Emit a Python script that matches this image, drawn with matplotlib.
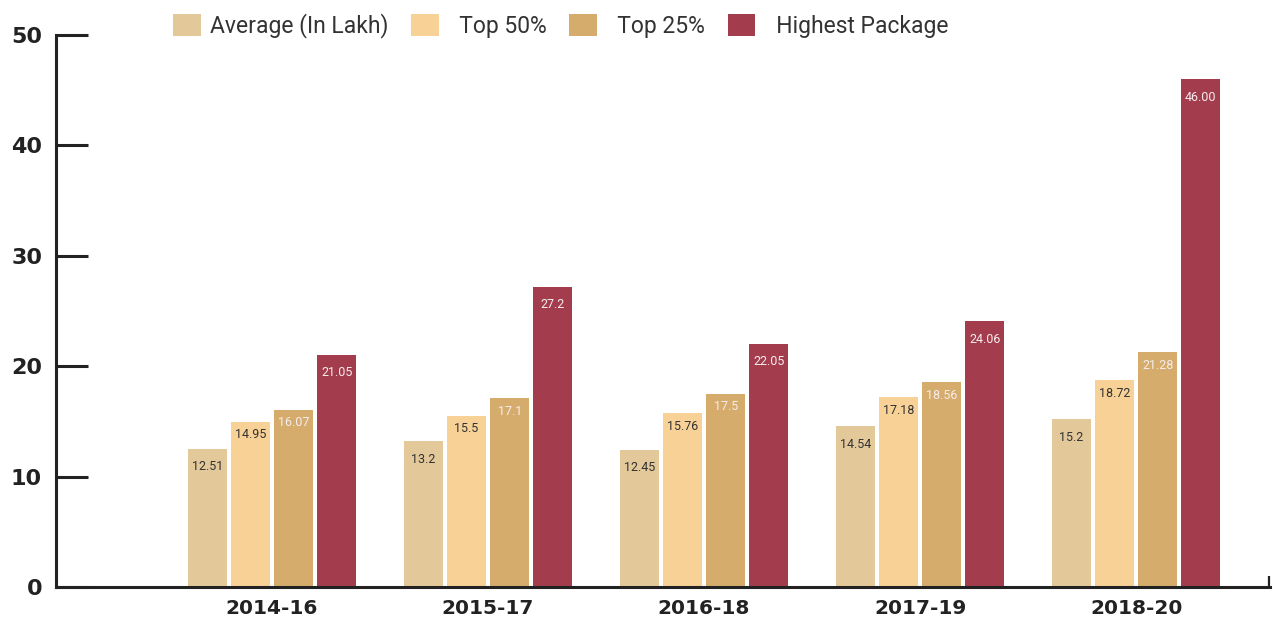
import matplotlib.pyplot as plt
import numpy as np

years = ["2014-16", "2015-17", "2016-18", "2017-19", "2018-20"]
series = ["Average (In Lakh)", "Top 50%", "Top 25%", "Highest Package"]
average = [12.51, 13.2, 12.45, 14.54, 15.2]
top50 = [14.95, 15.5, 15.76, 17.18, 18.72]
top25 = [16.07, 17.1, 17.5, 18.56, 21.28]
highest = [21.05, 27.2, 22.05, 24.06, 46.00]
average_txt = ["12.51", "13.2", "12.45", "14.54", "15.2"]
top50_txt = ["14.95", "15.5", "15.76", "17.18", "18.72"]
top25_txt = ["16.07", "17.1", "17.5", "18.56", "21.28"]
highest_txt = ["21.05", "27.2", "22.05", "24.06", "46.00"]

colors = ["#E3C89A", "#F7D196", "#D5AC6C", "#A33D4E"]
txt_colors = ["#333333", "#333333", "#F5ECEC", "#F5ECEC"]

fig = plt.figure(figsize=(12.73, 6.24), dpi=100)
ax = fig.add_axes([56/1273, 1-587/624, (1270-56)/1273, (587-35)/624])

x = np.arange(len(years))
data = [average, top50, top25, highest]
texts = [average_txt, top50_txt, top25_txt, highest_txt]
offs = [18, 13, 13, 18]
for k in range(4):
    pos = x + (k - 1.5) * 0.2
    bars = ax.bar(pos, data[k], width=0.18, color=colors[k], label=series[k], zorder=2)
    for b, t in zip(bars, texts[k]):
        ax.annotate(t, (b.get_x() + b.get_width()/2, b.get_height()),
                    xytext=(0, -offs[k]), textcoords="offset pixels",
                    ha="center", va="center", fontsize=9, family="Roboto",
                    color=txt_colors[k])

ax.set_xlim(-1.0, 4.62)
ax.set_ylim(0, 50)
ax.set_yticks([0, 10, 20, 30, 40, 50])
ax.set_xticks(x)
ax.set_xticklabels(years)
ax.set_xticks([4.615], minor=True)

for s in ["top", "right"]:
    ax.spines[s].set_visible(False)
for s in ["left", "bottom"]:
    ax.spines[s].set_linewidth(2.2)
    ax.spines[s].set_color("#222222")
    ax.spines[s].set_zorder(3)

ax.tick_params(axis="y", direction="in", length=23, width=2.2, color="#222222",
               pad=10, labelsize=16)
ax.tick_params(axis="x", which="major", length=0, pad=9, labelsize=14.5)
ax.tick_params(axis="x", which="minor", direction="in", length=8, width=1.6,
               color="#222222")
for lab in ax.get_yticklabels() + ax.get_xticklabels():
    lab.set_fontfamily("DejaVu Sans")
    lab.set_fontweight("bold")
    lab.set_color("#222222")

handles, labels = ax.get_legend_handles_labels()
labels = [labels[0]] + ["  " + l for l in labels[1:]]
fig.legend(handles, labels, loc="center left", bbox_to_anchor=(173/1273, 1-26/624),
           ncol=4, frameon=False, borderpad=0, borderaxespad=0,
           handlelength=1.2, handleheight=1.1, handletextpad=0.4,
           columnspacing=1.0, prop={"family": "Roboto", "size": 16.5},
           labelcolor="#333333")

fig.savefig("out.png", dpi=100)
